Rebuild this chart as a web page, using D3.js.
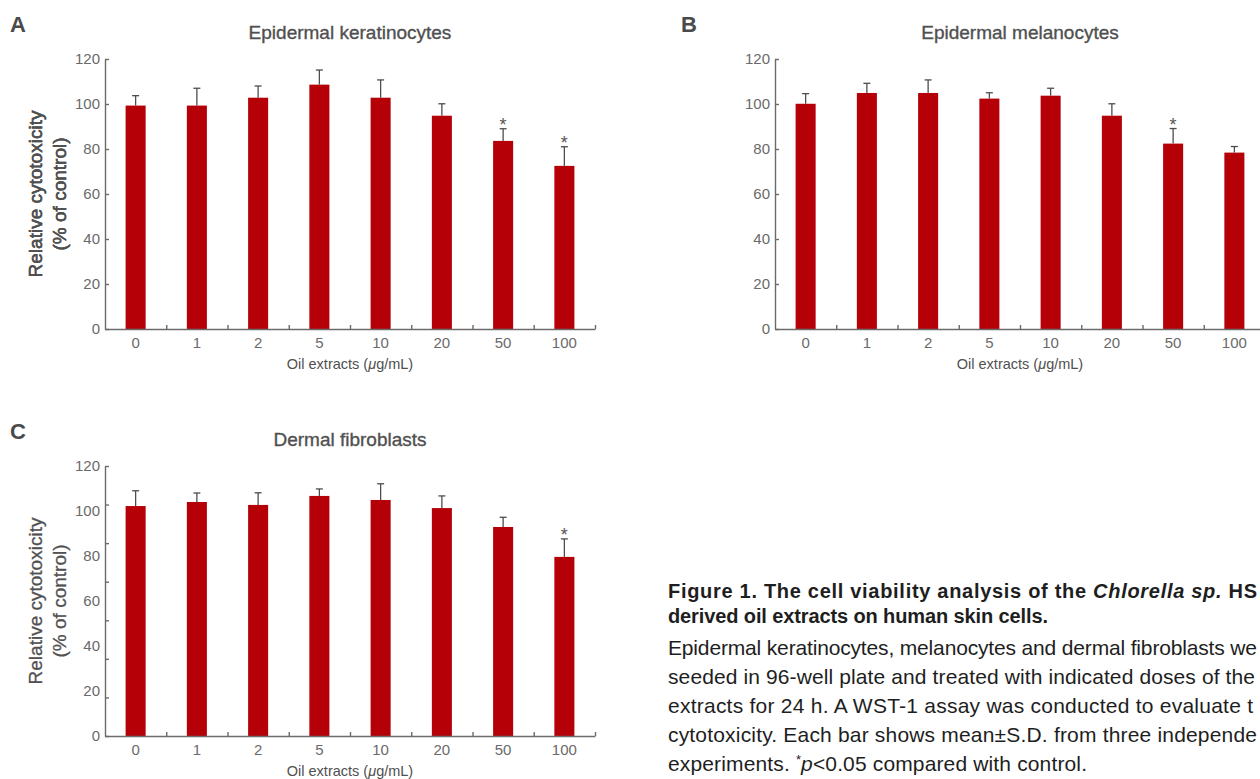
<!DOCTYPE html>
<html>
<head>
<meta charset="utf-8">
<script src="https://cdnjs.cloudflare.com/ajax/libs/d3/7.8.5/d3.min.js"></script>
<style>
  body { margin: 0; background: #fff; }
  svg { display: block; font-family: "Liberation Sans", Arial, sans-serif; }
</style>
</head>
<body>
<div id="figure"></div>
<script>
// doses on the x axis, y tick labels
var doses = ["0", "1", "2", "5", "10", "20", "50", "100"];
var yTicks = [0, 20, 40, 60, 80, 100, 120];

// A - epidermal keratinocytes
var keratinocyteMean = [99.3, 99.3, 102.8, 108.6, 102.8, 94.8, 83.6, 72.5];
var keratinocyteSD   = [4.4, 7.7, 5.2, 6.5, 7.9, 5.3, 5.4, 8.5];
var keratinocyteSig  = [0, 0, 0, 0, 0, 0, 1, 1];

// B - epidermal melanocytes
var melanocyteMean = [100.1, 104.9, 104.9, 102.4, 103.7, 94.8, 82.4, 78.4];
var melanocyteSD   = [4.5, 4.3, 5.8, 2.6, 3.3, 5.3, 6.7, 2.7];
var melanocyteSig  = [0, 0, 0, 0, 0, 0, 1, 0];

// C - dermal fibroblasts
var fibroblastMean = [102.2, 104.0, 102.7, 106.7, 104.9, 101.3, 92.9, 79.6];
var fibroblastSD   = [6.8, 4.0, 5.4, 3.1, 7.2, 5.4, 4.3, 8.0];
var fibroblastSig  = [0, 0, 0, 0, 0, 0, 0, 1];

var svgWidth = 1260;
var svgHeight = 779;

var svg = d3.select("#figure")
  .append("svg")
  .attr("width", svgWidth)
  .attr("height", svgHeight);

var barColor = "#b50008";
var axisColor = "#6b6b6b";
var textColor = "#505050";

function drawPanel(cfg) {
  var width = 490, height = 270;

  var rows = doses.map(function(dose, i) {
    return { dose: dose, mean: cfg.means[i], sd: cfg.sd[i], sig: cfg.sig[i] };
  });

  svg.append("text")
    .attr("x", cfg.letterX)
    .attr("y", cfg.letterY)
    .attr("font-size", 22)
    .attr("font-weight", "bold")
    .attr("fill", "#4a4a4a")
    .text(cfg.letter);

  var g = svg.append("g")
    .attr("transform", `translate(${cfg.left}, ${cfg.top})`);

  var x = d3.scaleBand()
    .domain(doses)
    .range([0, width])
    .paddingInner(0.673)
    .paddingOuter(0.3365);

  var y = d3.scaleLinear()
    .domain([0, 120])
    .range([height, 0]);

  var cx = d => x(d.dose) + x.bandwidth() / 2;

  // bars
  g.selectAll("rect.bar")
    .data(rows)
    .enter()
    .append("rect")
    .attr("class", "bar")
    .attr("x", d => x(d.dose))
    .attr("width", x.bandwidth())
    .attr("y", d => y(d.mean))
    .attr("height", d => height - y(d.mean))
    .attr("fill", barColor);

  // upper error bars
  g.selectAll("line.err")
    .data(rows)
    .enter()
    .append("line")
    .attr("class", "err")
    .attr("x1", cx)
    .attr("x2", cx)
    .attr("y1", d => y(d.mean))
    .attr("y2", d => y(d.mean + d.sd))
    .attr("stroke", "#4d4d4d")
    .attr("stroke-width", 1.3);

  g.selectAll("line.cap")
    .data(rows)
    .enter()
    .append("line")
    .attr("class", "cap")
    .attr("x1", d => cx(d) - 3.5)
    .attr("x2", d => cx(d) + 3.5)
    .attr("y1", d => y(d.mean + d.sd))
    .attr("y2", d => y(d.mean + d.sd))
    .attr("stroke", "#4d4d4d")
    .attr("stroke-width", 1.3);

  // significance stars
  g.selectAll("text.star")
    .data(rows.filter(d => d.sig))
    .enter()
    .append("text")
    .attr("class", "star")
    .attr("x", cx)
    .attr("y", d => y(d.mean + d.sd) + 2)
    .attr("text-anchor", "middle")
    .attr("font-size", 18)
    .attr("fill", "#555")
    .text("*");

  // y axis: tick marks (panel C has 8 marks but 7 labels)
  var nMarks = cfg.tickMarks || 6;
  var markScale = d3.scaleLinear().domain([0, nMarks]).range([height, 0]);
  var yMarks = g.append("g")
    .call(d3.axisLeft(markScale).tickValues(d3.range(nMarks + 1)).tickSizeInner(-4).tickSizeOuter(0).tickFormat(""));
  var yLabels = g.append("g")
    .call(d3.axisLeft(y).tickValues(yTicks).tickSize(0).tickPadding(5));
  yLabels.select(".domain").remove();

  // x axis: marks at group boundaries, labels under bars
  var edgeScale = d3.scaleLinear().domain([0, doses.length]).range([0, width]);
  var xMarks = g.append("g")
    .attr("transform", `translate(0, ${height})`)
    .call(d3.axisBottom(edgeScale).tickValues(d3.range(1, doses.length + 1)).tickSizeInner(-4).tickSizeOuter(0).tickFormat(""));
  var xLabels = g.append("g")
    .attr("transform", `translate(0, ${height})`)
    .call(d3.axisBottom(x).tickSize(0).tickPadding(8));
  xLabels.select(".domain").remove();

  [yMarks, xMarks].forEach(function(a) {
    a.selectAll("path, line").attr("stroke", axisColor).attr("stroke-width", 1.4);
  });
  [yLabels, xLabels].forEach(function(a) {
    a.selectAll("text")
      .attr("font-size", 15)
      .attr("font-family", "Liberation Sans, Arial, sans-serif")
      .attr("fill", "#6a6a6a");
  });
  xLabels.selectAll("text").attr("dy", "0.72em");

  // title
  g.append("text")
    .attr("x", width / 2)
    .attr("y", -20)
    .attr("text-anchor", "middle")
    .attr("font-size", 19)
    .attr("fill", textColor)
    .attr("stroke", textColor)
    .attr("stroke-width", 0.35)
    .text(cfg.title);

  // axis labels
  var yl = g.append("text")
    .attr("transform", `translate(${42 - cfg.left}, ${height / 2}) rotate(-90)`)
    .attr("text-anchor", "middle")
    .attr("font-size", 19)
    .attr("fill", textColor)
    .attr("stroke", textColor)
    .attr("stroke-width", 0.3);
  yl.append("tspan").attr("x", 0).attr("y", 0).text("Relative cytotoxicity");
  yl.append("tspan").attr("x", 0).attr("y", 24).text("(% of control)");

  var xl = g.append("text")
    .attr("x", width / 2)
    .attr("y", height + 40)
    .attr("text-anchor", "middle")
    .attr("font-size", 14.5)
    .attr("fill", textColor);
  xl.append("tspan").text("Oil extracts (");
  xl.append("tspan").attr("font-style", "italic").text("\u03bc");
  xl.append("tspan").text("g/mL)");
}

drawPanel({ letter: "A", letterX: 10, letterY: 32, title: "Epidermal keratinocytes",
  means: keratinocyteMean, sd: keratinocyteSD, sig: keratinocyteSig, left: 105, top: 59 });
drawPanel({ letter: "B", letterX: 681, letterY: 32, title: "Epidermal melanocytes",
  means: melanocyteMean, sd: melanocyteSD, sig: melanocyteSig, left: 775, top: 59 });
drawPanel({ letter: "C", letterX: 10, letterY: 439, title: "Dermal fibroblasts",
  means: fibroblastMean, sd: fibroblastSD, sig: fibroblastSig, left: 105, top: 466, tickMarks: 7 });

// caption (the reference crops it at the right edge, so only the visible part is kept)
var cap = svg.append("g").attr("fill", "#1e1e1e");

var head = cap.append("text")
  .attr("x", 668).attr("y", 598)
  .attr("font-size", 20).attr("font-weight", "bold")
  .attr("textLength", 589).attr("lengthAdjust", "spacing");
head.append("tspan").text("Figure 1. The cell viability analysis of the ");
head.append("tspan").attr("font-style", "italic").text("Chlorella sp.");
head.append("tspan").text(" HS");

cap.append("text")
  .attr("x", 668).attr("y", 623)
  .attr("font-size", 20).attr("font-weight", "bold")
  .attr("textLength", 380).attr("lengthAdjust", "spacing")
  .text("derived oil extracts on human skin cells.");

var bodyLines = [
  "Epidermal keratinocytes, melanocytes and dermal fibroblasts we",
  "seeded in 96-well plate and treated with indicated doses of the",
  "extracts for 24 h. A WST-1 assay was conducted to evaluate t",
  "cytotoxicity. Each bar shows mean\u00b1S.D. from three independe"
];
var bodyLengths = [589, 587, 585, 589];
cap.selectAll("text.body")
  .data(bodyLines)
  .enter()
  .append("text")
  .attr("class", "body")
  .attr("x", 668)
  .attr("y", (d, i) => 655 + i * 29)
  .attr("font-size", 21)
  .attr("textLength", (d, i) => bodyLengths[i])
  .attr("lengthAdjust", "spacing")
  .text(d => d);

var last = cap.append("text")
  .attr("x", 668).attr("y", 771)
  .attr("font-size", 21)
  .attr("textLength", 419).attr("lengthAdjust", "spacing");
last.append("tspan").text("experiments. ");
last.append("tspan").attr("font-size", 13).attr("dy", -7).text("*");
last.append("tspan").attr("font-style", "italic").attr("dy", 7).text("p");
last.append("tspan").text("<0.05 compared with control.");
</script>
</body>
</html>
